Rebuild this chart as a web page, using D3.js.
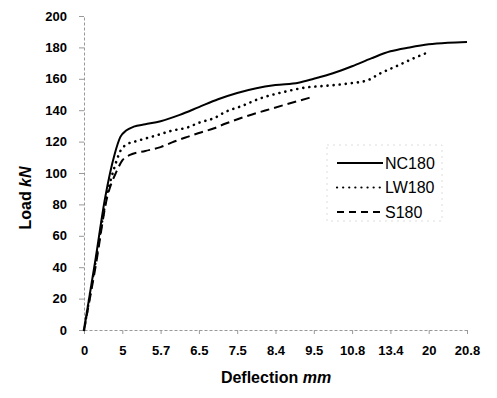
<!DOCTYPE html>
<html>
<head>
<meta charset="utf-8">
<script src="https://cdn.jsdelivr.net/npm/d3@7"></script>
<style>
  html, body { margin: 0; padding: 0; background: #fff; }
  svg { display: block; font-family: 'Liberation Sans', Arial, sans-serif; }
</style>
</head>
<body>
<svg id="chart" width="497" height="398"></svg>
<script>
// category labels on the deflection axis (evenly spaced, Excel-style)
const xLabels = ['0', '5', '5.7', '6.5', '7.5', '8.4', '9.5', '10.8', '13.4', '20', '20.8']
const yTicks = [0, 20, 40, 60, 80, 100, 120, 140, 160, 180, 200]

// [category position, load kN]
const nc180 = [[0, 0], [0.3, 45], [0.55, 84], [0.8, 112], [0.95, 123], [1.1, 127], [1.3, 129.5], [1.6, 131], [2, 133], [2.5, 137], [3, 142], [3.5, 147], [4, 151], [4.5, 154], [5, 156], [5.6, 157.5], [6, 160], [6.5, 163.5], [7, 168], [7.5, 173], [8, 177.5], [8.5, 180], [9, 182], [9.5, 183], [10, 183.5]]
const lw180 = [[0, 0], [0.3, 43], [0.6, 86], [0.8, 104], [0.95, 114], [1.1, 118], [1.4, 120.5], [1.9, 124], [2.3, 127], [2.7, 129], [3, 132], [3.4, 135], [3.7, 139], [4.1, 142.5], [4.6, 147.5], [5.2, 151.5], [5.8, 154.5], [6.3, 155.5], [6.9, 157], [7.4, 159], [7.7, 163], [8.2, 168.5], [8.6, 173], [9, 177]]
const s180 = [[0, 0], [0.3, 40], [0.6, 84], [0.85, 101], [1, 108], [1.2, 111.5], [1.6, 114], [2, 116.5], [2.3, 119.5], [2.7, 123], [3, 125.5], [3.4, 128.5], [3.7, 131.5], [4.1, 135], [4.9, 141], [5.9, 148]]

const seriesNames = ['NC180', 'LW180', 'S180']
const seriesData = [nc180, lw180, s180]
const dashes = ['none', '0.1,6', '9,5']

const svg = d3.select('#chart')
const x = d3.scaleLinear().domain([0, xLabels.length - 1]).range([84, 467])
const y = d3.scaleLinear().domain([0, 200]).range([330, 16])

svg.append('rect').attr('width', 497).attr('height', 398).attr('fill', '#fff')

const yAxis = svg.append('g').attr('transform', `translate(${x(0)},0)`)
  .call(d3.axisLeft(y).tickValues(yTicks).tickSize(5).tickPadding(12).tickSizeOuter(0))
const xAxis = svg.append('g').attr('transform', `translate(0,${y(0)})`)
  .call(d3.axisBottom(x).tickValues(d3.range(xLabels.length)).tickFormat((i) => xLabels[i]).tickSize(4).tickPadding(12).tickSizeOuter(0))

for (const axis of [yAxis, xAxis]) {
  axis.select('.domain').attr('stroke', '#999').attr('stroke-dasharray', '3,2')
  axis.selectAll('.tick line').attr('stroke', '#999')
  axis.selectAll('.tick text').attr('fill', '#000').attr('font-size', 13).attr('font-weight', 700)
    .attr('font-family', "'Liberation Sans', Arial, sans-serif")
}

const line = d3.line().x((d) => x(d[0])).y((d) => y(d[1])).curve(d3.curveMonotoneX)

svg.append('g').attr('fill', 'none')
  .selectAll('path').data(seriesData).join('path')
  .attr('d', line)
  .attr('stroke', '#000')
  .attr('stroke-width', (d, i) => (i === 1 ? 2.6 : 2))
  .attr('stroke-linecap', (d, i) => (i === 1 ? 'round' : 'butt'))
  .attr('stroke-dasharray', (d, i) => dashes[i])

// legend (faint box, as in the scan)
const legend = svg.append('g')
legend.append('rect').attr('x', 327).attr('y', 145).attr('width', 115).attr('height', 76)
  .attr('fill', '#fff').attr('stroke', '#ddd').attr('stroke-dasharray', '2,4')
const items = legend.selectAll('g.item').data(seriesNames).join('g').attr('class', 'item')
  .attr('transform', (d, i) => `translate(0,${163 + i * 24.5})`)
items.append('line').attr('x1', 337).attr('x2', 383)
  .attr('stroke', '#000')
  .attr('stroke-width', (d, i) => (i === 1 ? 2.2 : 1.8))
  .attr('stroke-linecap', (d, i) => (i === 1 ? 'round' : 'butt'))
  .attr('stroke-dasharray', (d, i) => (i === 2 ? '7,5' : i === 1 ? '0.1,6' : 'none'))
items.append('text').attr('x', 385).attr('dy', '0.36em').attr('font-size', 16).text((d) => d)

// axis titles
svg.append('text').attr('x', 276).attr('y', 383).attr('text-anchor', 'middle')
  .attr('font-size', 16).attr('font-weight', 700)
  .call((t) => {
    t.append('tspan').text('Deflection ')
    t.append('tspan').attr('font-style', 'italic').text('mm')
  })
svg.append('text').attr('transform', 'translate(31,198) rotate(-90)').attr('text-anchor', 'middle')
  .attr('font-size', 16).attr('font-weight', 700)
  .call((t) => {
    t.append('tspan').text('Load ')
    t.append('tspan').attr('font-style', 'italic').text('kN')
  })
</script>
</body>
</html>
